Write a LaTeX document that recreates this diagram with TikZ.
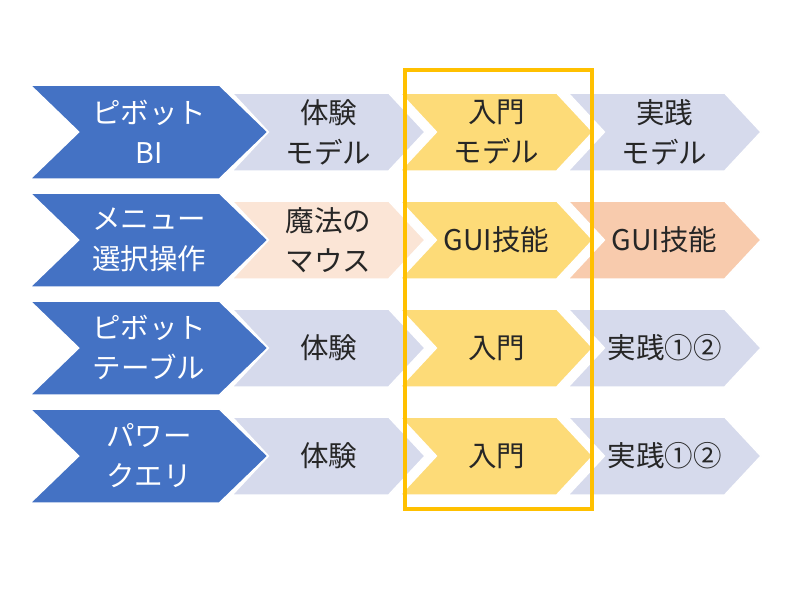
\documentclass[tikz,border=0pt]{standalone}
\usepackage{fontspec}
\setmainfont{Noto Sans CJK JP}
\usetikzlibrary{shapes.symbols}
\definecolor{leadblue}{HTML}{4472C4}
\definecolor{stagegray}{HTML}{D6DAEC}
\definecolor{stageyellow}{HTML}{FDDB78}
\definecolor{stagepeach}{HTML}{FBE5D6}
\definecolor{stagesalmon}{HTML}{F8CBAD}
\definecolor{focusorange}{HTML}{FFC000}
\tikzset{
	chevron/.style={
		signal,
		signal to=east,
		signal from=west,
		draw=white,
		line width=1.5pt,
		inner sep=0pt,
		align=center,
		font=\fontsize{28.5}{40}\selectfont,
	},
	lead/.style={
		chevron,
		signal pointer angle=88,
		fill=leadblue,
		text=white,
		minimum width=238pt,
		minimum height=94pt,
	},
	stage/.style={
		chevron,
		signal pointer angle=94,
		fill=#1,
		text=black!85,
		minimum width=193pt,
		minimum height=78pt,
	},
	focus/.style={
		draw=focusorange,
		line width=3.5pt,
	},
}

\begin{document}
\begin{tikzpicture}[x=1pt,y=-1pt]
		\newcommand{\dx}{168}
		\newcommand{\dy}{108}

		\useasboundingbox (0,0) rectangle (800,600);

		% Row 1: pivot BI
		\node[lead] (bi) at (149,132) {ピボット\\BI} ;
		\node[stage=stagegray] (bi1) at (328.5,132) {体験\\モデル} ;
		\node[stage=stageyellow] (bi2) at (328.5+\dx,132) {入門\\モデル} ;
		\node[stage=stagegray] (bi3) at (328.5+2*\dx,132) {実践\\モデル} ;

		% Row 2: menu operation
		\node[lead] (menu) at (149,132+\dy) {メニュー\\選択操作} ;
		\node[stage=stagepeach] (menu1) at (328.5,132+\dy) {魔法の\\マウス} ;
		\node[stage=stageyellow] (menu2) at (328.5+\dx,132+\dy) {GUI技能} ;
		\node[stage=stagesalmon] (menu3) at (328.5+2*\dx,132+\dy) {GUI技能} ;

		% Row 3: pivot table
		\node[lead] (pt) at (149,132+2*\dy) {ピボット\\テーブル} ;
		\node[stage=stagegray] (pt1) at (328.5,132+2*\dy) {体験} ;
		\node[stage=stageyellow] (pt2) at (328.5+\dx,132+2*\dy) {入門} ;
		\node[stage=stagegray] (pt3) at (328.5+2*\dx,132+2*\dy) {実践①②} ;

		% Row 4: power query
		\node[lead] (pq) at (149,132+3*\dy) {パワー\\クエリ} ;
		\node[stage=stagegray] (pq1) at (328.5,132+3*\dy) {体験} ;
		\node[stage=stageyellow] (pq2) at (328.5+\dx,132+3*\dy) {入門} ;
		\node[stage=stagegray] (pq3) at (328.5+2*\dx,132+3*\dy) {実践①②} ;

		% highlighted column
		\draw[focus] (405,70) rectangle (592,509) ;

	\end{tikzpicture}
\end{document}
